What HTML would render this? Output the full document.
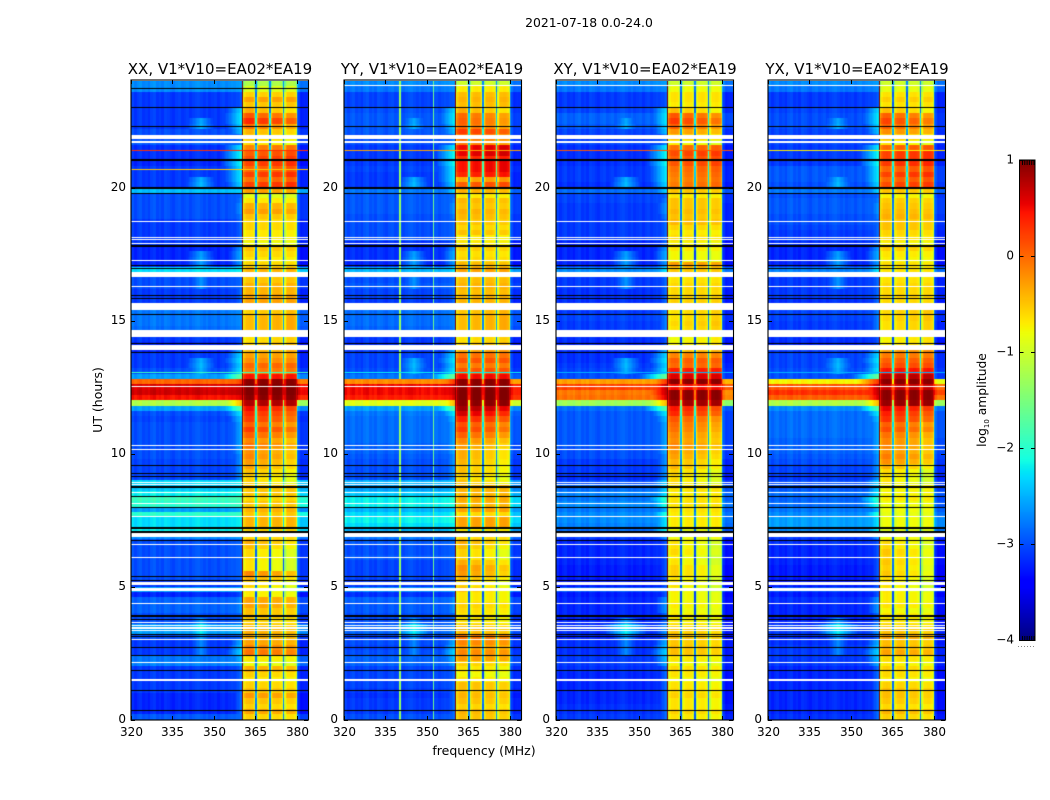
<!DOCTYPE html>
<html>
<head>
<meta charset="utf-8">
<title>2021-07-18 0.0-24.0</title>
<style>
html,body{margin:0;padding:0;background:#fff;}
#figure{position:relative;width:1050px;height:800px;overflow:hidden;background:#fff;}
canvas{position:absolute;display:block;}
svg{position:absolute;left:0;top:0;}
text{font-family:"DejaVu Sans","Liberation Sans",sans-serif;fill:#000;}
</style>
</head>
<body>
<div id="figure">
<canvas id="heat0" width="177" height="639" style="left:131px;top:81px"></canvas>
<canvas id="heat1" width="177" height="639" style="left:344px;top:81px"></canvas>
<canvas id="heat2" width="177" height="639" style="left:556px;top:81px"></canvas>
<canvas id="heat3" width="177" height="639" style="left:768px;top:81px"></canvas>
<canvas id="cbar" width="16" height="480" style="left:1019px;top:160px"></canvas>
<svg id="overlay" width="1050" height="800">
<text x="589" y="27" font-size="12.4" text-anchor="middle">2021-07-18 0.0-24.0</text>
<text x="220" y="74" font-size="15" text-anchor="middle">XX, V1*V10=EA02*EA19</text>
<text x="432" y="74" font-size="15" text-anchor="middle">YY, V1*V10=EA02*EA19</text>
<text x="645" y="74" font-size="15" text-anchor="middle">XY, V1*V10=EA02*EA19</text>
<text x="857" y="74" font-size="15" text-anchor="middle">YX, V1*V10=EA02*EA19</text>
<text x="484" y="755" font-size="12.5" text-anchor="middle">frequency (MHz)</text>
<text transform="translate(102,400) rotate(-90)" font-size="12.5" text-anchor="middle">UT (hours)</text>
<text transform="translate(986,400) rotate(-90)" font-size="12.3" text-anchor="middle">log<tspan font-size="7" dy="3">10</tspan><tspan dy="-3"> amplitude</tspan></text>
</svg>
</div>
<script>
// ---- Chart data (log10 amplitude) ----
// Rows run from 24 h (top) to 0 h (bottom), one value for each 0.2 h.
const rowSpanHours = 0.2;
const xTickLabels = [320, 335, 350, 365, 380];
const yTickLabels = [0, 5, 10, 15, 20];
const colorbarTicks = [1, 0, -1, -2, -3, -4];

const bandXX = [
-1.2,-0.9,-0.55,-0.3,-0.5,-0.5,-0.05,0.2,-0.2,-0.5,
-0.6,-0.7,-0.1,0.1,0.2,0.25,0.05,0.25,0,0.25,
-0.3,-0.9,-0.7,-0.4,-0.3,-0.5,-0.6,-0.6,-0.7,-0.7,
-0.8,-0.5,-0.6,-0.7,-0.6,-0.4,-0.5,-0.5,-0.4,-0.4,
-0.3,-0.3,-0.5,-0.5,-0.4,-0.4,-0.4,-0.5,-0.6,-0.5,
-0.4,-0.3,-0.2,0,-0.1,0.45,0.95,1,1,0.95,
0.8,0.35,0.2,0.1,-0.1,0.1,-0.1,-0.3,-0.2,-0.35,
-0.3,-0.4,-0.45,-0.6,-0.7,-0.7,-0.5,-0.5,-0.6,-0.5,
-0.4,-0.5,-0.4,-0.4,-0.6,-0.6,-0.5,-0.6,-0.75,-0.75,
-0.8,-0.8,-0.3,-0.5,-0.7,-0.8,-0.75,-0.35,-0.35,-0.5,
-0.5,-0.6,-0.5,-0.4,-0.4,-0.35,-0.2,-0.1,-0.7,-0.85,
-0.4,-0.6,-0.7,-0.6,-0.5,-0.3,-0.5,-0.6,-0.35,-0.6];
const bandYY = [
-1,-0.7,-0.45,-0.4,-0.45,-0.5,-0.15,-0.1,-0.15,0.15,
-0.1,-0.2,0.55,0.6,0.35,0.5,0.5,0.4,-0.3,0.1,
-0.4,-0.7,-0.45,-0.5,-0.4,-0.45,-0.5,-0.6,-0.5,-0.7,
-0.7,-0.55,-0.65,-0.6,-0.45,-0.3,-0.5,-0.45,-0.4,-0.45,
-0.4,-0.4,-0.5,-0.45,-0.4,-0.4,-0.4,-0.4,-0.6,-0.5,
-0.3,-0.05,0.1,-0.1,0.1,0.5,0.95,0.95,1,1,
0.95,0.7,0.5,0.25,0,0.1,-0.1,-0.3,-0.4,-0.5,
-0.5,-0.55,-0.6,-0.6,-0.7,-0.6,-0.4,-0.4,-0.35,-0.4,
-0.3,-0.6,-0.3,-0.3,-0.7,-0.6,-0.5,-0.6,-0.7,-0.7,
-0.5,-0.35,-0.4,-0.55,-0.7,-0.6,-0.7,-0.7,-0.6,-0.65,
-0.7,-0.7,-0.55,-0.45,-0.1,-0.2,-0.3,-0.2,-0.3,-0.6,
-0.7,-0.8,-0.7,-0.5,-0.5,-0.45,-0.5,-0.6,-0.45,-0.5];
const bandXY = [
-1,-0.8,-0.65,-0.65,-0.7,-0.6,-0.05,0.1,-0.1,-0.35,
-0.55,-0.8,0,0.2,0.1,0.15,0,-0.05,-0.1,-0.05,
-0.5,-0.7,-0.5,-0.5,-0.45,-0.5,-0.45,-0.6,-0.7,-0.65,
-0.75,-0.7,-0.8,-0.8,-0.3,-0.5,-0.7,-0.65,-0.6,-0.6,
-0.55,-0.55,-0.65,-0.6,-0.6,-0.55,-0.6,-0.65,-0.75,-0.7,
-0.45,-0.15,0.05,0,0.4,0.6,0.95,0.5,0.95,0.95,
0.85,0.3,0.2,-0.05,-0.15,-0.2,-0.3,-0.35,-0.3,-0.4,
-0.45,-0.55,-0.55,-0.7,-0.75,-0.75,-0.65,-0.7,-0.65,-0.65,
-0.65,-0.7,-0.7,-0.7,-0.85,-0.8,-0.8,-0.8,-0.75,-0.85,
-0.8,-0.7,-0.7,-0.8,-0.8,-0.85,-0.8,-0.8,-0.75,-0.8,
-0.75,-0.75,-0.65,-0.55,-0.5,-0.55,-0.5,-0.5,-0.7,-0.8,
-0.65,-0.7,-0.8,-0.7,-0.65,-0.6,-0.7,-0.7,-0.6,-0.7];
const bandYX = [
-1,-0.85,-0.65,-0.55,-0.65,-0.6,-0.1,0.05,-0.1,-0.3,
-0.55,-0.75,0.05,0.25,0.25,0.3,0.05,0.25,0.05,0.2,
-0.5,-0.75,-0.55,-0.5,-0.45,-0.4,-0.5,-0.5,-0.6,-0.65,
-0.75,-0.55,-0.7,-0.75,-0.65,-0.65,-0.7,-0.65,-0.6,-0.6,
-0.55,-0.6,-0.65,-0.55,-0.55,-0.6,-0.6,-0.6,-0.7,-0.65,
-0.25,-0.1,0.05,0.15,0.45,0.75,0.95,0.7,0.95,0.95,
0.9,0.4,0.25,0.15,-0.1,0,-0.2,-0.3,-0.3,-0.35,
-0.25,-0.35,-0.55,-0.75,-0.8,-0.8,-0.75,-0.75,-0.7,-0.8,
-0.8,-0.85,-0.8,-0.8,-0.9,-0.8,-0.75,-0.75,-0.65,-0.7,
-0.65,-0.7,-0.65,-0.75,-0.8,-0.8,-0.75,-0.75,-0.7,-0.8,
-0.7,-0.7,-0.6,-0.5,-0.35,-0.5,-0.45,-0.35,-0.65,-0.75,
-0.6,-0.65,-0.75,-0.6,-0.5,-0.5,-0.55,-0.65,-0.45,-0.6];

const backgroundXX = [
-2.6,-2.6,-3,-3,-3,-3,-3,-3,-3,-2.9,
-2.9,-2.85,-3.05,-3.05,-3.05,-3.1,-3,-3,-3,-3,
-2.35,-2.9,-2.9,-2.9,-2.9,-2.9,-3,-3,-3,-3,
-3,-3.1,-3.1,-3.1,-3.1,-2.2,-2.9,-2.9,-2.9,-3,
-3,-3,-3,-2.7,-2.7,-2.7,-2.75,-2.7,-3,-3.1,
-3.1,-3,-3,-3,-2.9,-2.5,0,0.6,0.65,0.45,
-1.2,-2.5,-2.9,-2.95,-2.9,-2.9,-2.9,-2.9,-2.9,-2.9,
-2.9,-2.95,-2.95,-2.95,-2.95,-2.2,-2.3,-2.1,-1.9,-2,
-2.5,-2,-2.2,-2.2,-2.1,-2.6,-2.9,-2.9,-2.9,-2.9,
-2.9,-2.9,-2.9,-2.9,-3,-2.5,-3.1,-2.8,-2.8,-2.8,
-2.9,-2.9,-2.5,-2.5,-2.9,-3,-3,-3,-2.7,-2.65,
-3,-3,-3,-3,-3,-3.1,-3.1,-3.1,-3.1,-2.85];
const backgroundYY = [
-2.6,-2.7,-2.95,-2.95,-2.95,-2.9,-2.85,-2.85,-2.85,-2.85,
-2.9,-2.9,-3,-3,-3,-3,-2.95,-3,-3,-3,
-2.7,-2.85,-2.85,-2.85,-2.85,-2.9,-2.9,-2.9,-2.9,-2.9,
-3.05,-3.05,-3.05,-3.05,-3.1,-2.4,-2.85,-2.9,-2.85,-2.95,
-2.95,-3,-3,-2.75,-2.75,-2.75,-2.8,-2.75,-3,-3.05,
-3,-2.95,-2.95,-2.95,-2.9,-2.7,-0.2,0.5,0.5,0.4,
-0.9,-2.5,-2.7,-2.75,-2.75,-2.75,-2.75,-2.75,-2.8,-2.8,
-2.85,-2.9,-2.9,-2.9,-2.9,-2.4,-2.5,-2.3,-2.1,-2.1,
-2.4,-2.2,-2.1,-2.2,-2.4,-2.7,-2.85,-2.9,-2.9,-2.85,
-2.95,-2.95,-2.95,-2.95,-3,-2.6,-3.05,-2.8,-2.85,-2.85,
-2.9,-2.9,-2.8,-2.8,-2.95,-2.9,-2.95,-2.9,-2.8,-2.8,
-2.95,-2.95,-2.95,-2.95,-3,-3.05,-3,-3,-3,-2.9];
const backgroundXY = [
-2.6,-2.7,-3,-3,-3,-2.95,-2.8,-2.8,-2.85,-2.95,
-3,-2.95,-3.05,-3.05,-3.05,-3.05,-3,-3,-3,-3.05,
-2.75,-2.95,-2.95,-3,-3,-3,-3,-3,-3,-3,
-3.1,-3.1,-3.1,-3.1,-3.1,-2.6,-3,-3,-3,-3.05,
-3.05,-3.05,-3.1,-3,-2.95,-3,-3,-3,-3.05,-3.1,
-3.05,-3.05,-3.05,-3,-2.95,-2.9,-0.3,0.2,-0.1,-0.05,
-1.3,-2.75,-2.85,-2.85,-2.85,-2.85,-2.85,-2.85,-2.85,-2.9,
-2.9,-3,-3,-3,-3.05,-2.9,-2.75,-2.65,-2.7,-2.6,
-2.7,-2.6,-2.6,-2.65,-2.75,-3,-3.1,-3.1,-3.1,-3.1,
-3.1,-3.15,-3.15,-3.15,-3.15,-2.85,-3.15,-3.1,-3.1,-3.1,
-3.1,-3.1,-3.05,-3.05,-3.1,-3.05,-3.05,-3.05,-3,-3,
-3.05,-3.1,-3.1,-3.1,-3.1,-3.1,-3.1,-3.05,-3.05,-3];
const backgroundYX = [
-2.6,-2.7,-3,-3,-3,-2.95,-2.9,-2.9,-2.9,-2.95,
-3,-2.95,-3,-3,-3,-3,-2.85,-2.85,-2.85,-2.9,
-2.7,-2.9,-2.85,-2.85,-2.85,-2.9,-2.9,-2.95,-3,-3,
-3.05,-3.1,-3.1,-3.1,-3.1,-2.65,-3,-3,-3,-3,
-3,-3.05,-3.1,-2.95,-2.95,-3,-3,-3,-3.05,-3.1,
-3,-2.95,-2.95,-2.95,-2.9,-2.9,-0.75,0.1,0.3,0.05,
-1.2,-2.6,-2.75,-2.75,-2.75,-2.75,-2.75,-2.8,-2.8,-2.8,
-2.85,-2.9,-2.95,-2.95,-3,-2.9,-2.85,-2.75,-2.8,-2.75,
-2.7,-2.6,-2.5,-2.5,-2.6,-3,-3.05,-3.1,-3.1,-3.1,
-3.1,-3.15,-3.15,-3.15,-3.15,-2.9,-3.15,-3.05,-3.1,-3.1,
-3.1,-3.1,-3,-3,-3.05,-3.05,-3,-3,-3,-3,
-3.1,-3.1,-3.1,-3.1,-3.1,-3.1,-3.1,-3.1,-3.1,-3.05];

// Level reached next to the band edge (360 MHz), per row.
const rampLevels = [
-2.6,-2.6,-2.8,-2.8,-2.8,-2.2,-2.1,-2.1,-2.2,-2.3,
-2.6,-2.6,-2.1,-2,-2,-2,-2.1,-2.1,-2.1,-2.2,
-2.2,-2.7,-2.6,-2.5,-2.5,-2.6,-2.7,-2.7,-2.7,-2.7,
-2.7,-2.5,-2.4,-2.4,-2.5,-2.1,-2.7,-2.7,-2.7,-2.7,
-2.7,-2.7,-2.7,-2.6,-2.6,-2.6,-2.6,-2.6,-2.8,-2.8,
-2.4,-2.2,-2.1,-2.2,-2.1,-1.5,0.4,0.85,0.85,0.75,
-0.3,-1.6,-2.1,-2.3,-2.4,-2.4,-2.4,-2.4,-2.4,-2.4,
-2.5,-2.5,-2.5,-2.5,-2.5,-2.2,-2.2,-2.1,-1.8,-1.9,
-2.3,-1.9,-2.1,-2.1,-2,-2.5,-2.8,-2.8,-2.8,-2.8,
-2.8,-2.8,-2.8,-2.8,-2.8,-2.8,-2.8,-2.5,-2.5,-2.5,
-2.7,-2.7,-2.5,-2.5,-2.7,-2.4,-2.3,-2.2,-2.3,-2.4,
-2.7,-2.7,-2.7,-2.7,-2.7,-2.7,-2.7,-2.7,-2.7,-2.7];
// Peak of the broad emission patch near 345 MHz, per row (-4 = none).
const humpLevels = [
-4,-4,-4,-4,-4,-4,-4,-2.55,-2.5,-4,
-4,-4,-4,-4,-4,-4,-4,-4,-2.5,-2.45,
-4,-4,-4,-4,-4,-4,-4,-4,-4,-4,
-4,-4,-2.6,-2.55,-2.6,-4,-2.65,-2.65,-2.65,-4,
-4,-4,-4,-4,-4,-4,-4,-4,-4,-4,
-4,-4,-2.5,-2.45,-2.5,-4,-4,-4,-4,-4,
-4,-4,-4,-4,-4,-4,-4,-4,-4,-4,
-4,-4,-4,-4,-4,-4,-4,-4,-4,-4,
-4,-4,-4,-4,-4,-4,-4,-4,-4,-4,
-4,-4,-4,-4,-4,-4,-4,-4,-4,-4,
-4,-2.6,-2.1,-2.2,-2.6,-2.7,-2.7,-2.7,-4,-4,
-4,-4,-4,-4,-4,-4,-4,-4,-4,-4];
// How much brighter the low-frequency sub-bands are than the high ones, per row.
const bandTilt = [
0,0,0,0,0,0.15,0.15,0.15,0.15,0.1,
0.1,0.1,-0.05,-0.05,-0.05,-0.05,-0.05,-0.05,-0.05,-0.05,
0.03,0.03,0.03,0.03,0.03,0.03,0.03,0.03,0.03,0.03,
0.03,0.03,0.03,0.03,0.03,0,0,0,0,0,
0,0,0,-0.05,-0.05,-0.05,-0.05,-0.05,-0.05,-0.05,
-0.05,0,0,0,0,0,0,0,0,0,
0,0.15,0.15,0.15,0.15,0.15,0.15,0.15,0.15,0.15,
0.15,0.15,0.15,0.15,0.15,0.15,0,0,0,0,
0,0,0,0,0,0,0.15,0.15,0.15,0.15,
0.15,0.15,0.15,0.15,0.15,0.15,0.05,0.05,0.05,0.05,
0.05,0.05,0.05,0.05,0.05,0.05,0.05,0.05,0.05,0.05,
0.05,0.05,0.05,0.05,0.05,0.05,0.05,0.05,0.05,0.05];
const subbandWeights = [1, 0.3, -0.2, -1.1];

// Passband shape, 360.5 to 379.5 MHz in 0.5 MHz steps (offset from row level).
const bandShape = [
-0.45,-0.08,0,0,0.02,0.02,0,-0.04,-0.3,-2.3,
-0.4,-0.08,0,0,0.02,0.02,0,-0.04,-0.3,-2.3,
-0.4,-0.08,0,0,0.02,0.02,0,-0.04,-0.3,-2.2,
-0.4,-0.08,0,0,0.02,0.02,0,-0.04,-0.3];
// Channel offsets 320 to 359 MHz, 1 MHz steps.
const channelOffsets = [
0.05,-0.05,0.02,0.06,-0.04,0,-0.06,0.04,0.08,-0.03,
0.02,-0.05,0.06,0.03,-0.02,-0.06,0.02,0.05,-0.03,0,
0.04,-0.04,0.02,0.06,0.08,0.03,-0.02,0.04,-0.04,0,
0.03,-0.05,0.02,0.05,-0.02,0.03,0.06,0.04,0.08,0.1];
// Channel offsets 380 to 383.5 MHz, 0.5 MHz steps.
const rightOffsets = [0.25, 0, -0.12, -0.15, -0.12, -0.1, -0.12, -0.08];

// Persistent narrow-band lines per polarisation: [MHz, level].
const spikesXX = [];
const spikesYY = [[340, -1.35], [352, -1.6]];
const spikesXY = [];
const spikesYX = [];

// Short bright lines: hour, then level in XX, YY, XY, YX.
const hotLineHours = [21.4, 20.7, 13.05];
const hotLineLevels = [[0.3, -0.3, 0.1, -0.7], [-0.5, -4, -4, -4], [-1.9, -2.2, -2.5, -2.5]];

// Flagged (no data) time ranges, hours [low, high].
const whiteFlags = [[21.84,21.96],[21.69,21.73],[18.69,18.73],[18.09,18.13],[18.01,18.05],[17.89,17.93],
[17.24,17.28],[16.63,16.81],[16.27,16.31],[15.40,15.67],[14.62,14.66],[14.39,14.61],[13.89,14.08],
[12.51,12.55],[10.27,10.31],[10.12,10.16],[8.90,8.94],[8.82,8.86],[8.51,8.55],[8.09,8.13],[7.60,7.64],
[6.87,7.02],[6.57,6.61],[6.08,6.12],[5.07,5.17],[4.84,4.95],[4.35,4.39],[3.62,3.66],[3.52,3.56],
[3.42,3.46],[3.31,3.35],[3.00,3.04],[2.12,2.16],[1.43,1.53]];
const blackFlags = [[22.98,23.02],[22.28,22.32],[20.99,21.07],[19.93,20.01],[19.77,19.81],[17.76,17.84],
[17.04,17.08],[16.92,16.96],[15.91,15.95],[15.79,15.83],[15.21,15.25],[14.11,14.15],[13.78,13.82],
[9.54,9.58],[9.22,9.26],[9.13,9.17],[8.70,8.76],[8.36,8.40],[7.96,8.00],[7.18,7.22],[7.03,7.07],
[6.70,6.74],[5.35,5.39],[5.22,5.26],[3.86,3.94],[3.75,3.79],[3.18,3.22],[3.09,3.13],[2.69,2.73],
[2.38,2.42],[1.81,1.85],[1.08,1.12],[0.33,0.37]];
// Flags seen in only one group of panels near the top of the plot.
const blackFlagsXXOnly = [[23.71,23.75]];
const whiteFlagsOtherPanels = [[23.81,23.87]];

// ---- Layout and scales ----
const panelBand = [bandXX, bandYY, bandXY, bandYX];
const panelBackground = [backgroundXX, backgroundYY, backgroundXY, backgroundYX];
const panelSpikes = [spikesXX, spikesYY, spikesXY, spikesYX];
const panelLeft = [131, 344, 556, 768];
const yLabelGap = [5, 6, 6, 6];
const plotWidth = 177, plotTop = 81, plotBottomPx = 719.5, pxPerHour = 26.6;
const freqMin = 320, freqMax = 384;
// The reference floor is speckled; its mean colour sits slightly below the read row levels.
const floorShift = -0.1;

function xScale(f) { return (f - freqMin) / (freqMax - freqMin) * plotWidth; }
function yScale(h) { return plotBottomPx - plotTop - h * pxPerHour; }
function cbScale(v) { return 160 + (1 - v) / 5 * 480; }

function lerpSeg(t, pts) {
  if (t <= pts[0][0]) return pts[0][1];
  for (let i = 1; i < pts.length; i++) {
    if (t <= pts[i][0]) {
      const a = pts[i - 1], b = pts[i];
      return a[1] + (b[1] - a[1]) * (t - a[0]) / (b[0] - a[0]);
    }
  }
  return pts[pts.length - 1][1];
}
const jetR = [[0.35, 0], [0.66, 1], [0.89, 1], [1, 0.5]];
const jetG = [[0.125, 0], [0.375, 1], [0.64, 1], [0.91, 0], [1, 0]];
const jetB = [[0, 0.5], [0.11, 1], [0.34, 1], [0.65, 0], [1, 0]];
function colorOf(v) {
  const t = Math.min(1, Math.max(0, (v + 4) / 5));
  const c = s => Math.round(255 * lerpSeg(t, s));
  return 'rgb(' + c(jetR) + ',' + c(jetG) + ',' + c(jetB) + ')';
}

function cellValue(p, r, f) {
  const raw = panelBackground[p][r];
  const bg = raw < -2 ? raw + floorShift : raw;
  if (f >= 380) {
    return bg + rightOffsets[Math.min(rightOffsets.length - 1, Math.round((f - 380) / 0.5))];
  }
  if (f >= 360.5) {
    const idx = Math.round((f - 360.5) / 0.5);
    const sub = Math.min(3, Math.floor((f - 360.5) / 5));
    const v = panelBand[p][r] + subbandWeights[sub] * bandTilt[r] + bandShape[idx];
    return Math.max(v, bg);
  }
  let v = bg + channelOffsets[Math.floor(f - 320)];
  if (f >= 348) v = Math.max(v, rampLevels[r] - (360.5 - f) * 0.14);
  v = Math.max(v, humpLevels[r] - Math.abs(f - 345) * 0.12);
  for (const s of panelSpikes[p]) {
    if (Math.abs(f - s[0]) < 0.25) v = Math.max(v, s[1]);
  }
  return v;
}

function fillFlag(ctx, range, color) {
  const y0 = Math.round(yScale(range[1]));
  const y1 = Math.round(yScale(range[0]));
  ctx.fillStyle = color;
  ctx.fillRect(0, y0, plotWidth, Math.max(1, y1 - y0));
}

function drawPanel(p) {
  const ctx = document.getElementById('heat' + p).getContext('2d');
  const rows = panelBand[p].length;
  for (let r = 0; r < rows; r++) {
    const hTop = 24 - r * rowSpanHours;
    const y0 = Math.round(yScale(hTop));
    const y1 = Math.round(yScale(hTop - rowSpanHours));
    for (let c = 0; c < (freqMax - freqMin) * 2; c++) {
      const f = freqMin + c * 0.5;
      const x0 = Math.round(xScale(f));
      const x1 = Math.round(xScale(f + 0.5));
      ctx.fillStyle = colorOf(cellValue(p, r, f));
      ctx.fillRect(x0, y0, x1 - x0, y1 - y0);
    }
  }
  hotLineHours.forEach(function (h, i) {
    const level = hotLineLevels[i][p];
    if (level > -4) {
      ctx.fillStyle = colorOf(level);
      ctx.fillRect(0, Math.round(yScale(h)), plotWidth, 1);
    }
  });
  whiteFlags.forEach(function (fl) { fillFlag(ctx, fl, '#fff'); });
  blackFlags.forEach(function (fl) { fillFlag(ctx, fl, '#000'); });
  if (p === 0) {
    blackFlagsXXOnly.forEach(function (fl) { fillFlag(ctx, fl, '#000'); });
  } else {
    whiteFlagsOtherPanels.forEach(function (fl) { fillFlag(ctx, fl, '#fff'); });
  }
}
[0, 1, 2, 3].forEach(drawPanel);

// ---- Colorbar ----
(function () {
  const ctx = document.getElementById('cbar').getContext('2d');
  for (let y = 0; y < 480; y++) {
    ctx.fillStyle = colorOf(1 - (y + 0.5) / 480 * 5);
    ctx.fillRect(0, y, 16, 1);
  }
})();

// ---- Axes ----
const svgNS = 'http://www.w3.org/2000/svg';
const overlay = document.getElementById('overlay');
function addLine(x1, y1, x2, y2, color, name) {
  const el = document.createElementNS(svgNS, 'line');
  el.setAttribute('x1', x1);
  el.setAttribute('y1', y1);
  el.setAttribute('x2', x2);
  el.setAttribute('y2', y2);
  el.setAttribute('stroke', color);
  el.setAttribute('stroke-width', 1);
  
  
  overlay.appendChild(el);
}
function addText(x, y, str, anchor, name) {
  const el = document.createElementNS(svgNS, 'text');
  el.setAttribute('x', x);
  el.setAttribute('y', y);
  el.setAttribute('font-size', 12);
  el.setAttribute('text-anchor', anchor);
  
  
  el.textContent = str;
  overlay.appendChild(el);
}
const panelKeys = ['xx', 'yy', 'xy', 'yx'];
panelLeft.forEach(function (left, p) {
  const key = panelKeys[p];
  const right = left + plotWidth;
  const top = 80, bottom = 720;
  const frame = document.createElementNS(svgNS, 'rect');
  frame.setAttribute('x', left);
  frame.setAttribute('y', top);
  frame.setAttribute('width', plotWidth + 0.5);
  frame.setAttribute('height', bottom - top);
  frame.setAttribute('fill', 'none');
  frame.setAttribute('stroke', '#000');
  frame.setAttribute('stroke-width', 1.1);
  
  
  overlay.appendChild(frame);
  xTickLabels.forEach(function (f) {
    const x = Math.round(left + xScale(f)) + 0.5;
    addLine(x, bottom, x, bottom - 4, '#000', 'x-tick-' + f);
    addLine(x, top, x, top + 4, '#000', 'x-tick-top-' + f);
    addText(x, bottom + 16, String(f), 'middle', 'x-tick-label-' + f);
  });
  yTickLabels.forEach(function (h) {
    const y = Math.round(plotTop + yScale(h)) + 0.5;
    addLine(left, y, left + 4, y, '#000', 'y-tick-' + h);
    addLine(right, y, right - 4, y, '#000', 'y-tick-right-' + h);
    addText(left - yLabelGap[p], y + 2.5, String(h), 'end', 'y-tick-label-' + h);
  });
});

// Colorbar frame, ticks and labels.
(function () {
  const frame = document.createElementNS(svgNS, 'rect');
  frame.setAttribute('x', 1019.5);
  frame.setAttribute('y', 160);
  frame.setAttribute('width', 15.5);
  frame.setAttribute('height', 480.5);
  frame.setAttribute('fill', 'none');
  frame.setAttribute('stroke', '#000');
  frame.setAttribute('stroke-width', 1);
  
  
  overlay.appendChild(frame);
  colorbarTicks.forEach(function (v) {
    const y = Math.round(cbScale(v)) + 0.5;
    addLine(1019.5, y, 1023.5, y, '#000', 'colorbar-tick-' + v);
    addLine(1031, y, 1035, y, '#000', 'colorbar-tick-right-' + v);
    addText(1014, y + 3, String(v).replace('-', '\u2212'), 'end', 'colorbar-tick-label-' + v);
  });
  for (let k = 0; k < 6; k++) {
    const x = 1022.5 + k * 2.3;
    addLine(x, 160, x, 165, '#000', 'colorbar-end-tick-top');
    addLine(x, 636, x, 640, '#000', 'colorbar-end-tick-bottom');
  }
  for (let k = 0; k < 6; k++) {
    const dot = document.createElementNS(svgNS, 'rect');
    dot.setAttribute('x', 1018 + k * 3);
    dot.setAttribute('y', 646);
    dot.setAttribute('width', 1);
    dot.setAttribute('height', 1);
    dot.setAttribute('fill', '#888');
    
    
    overlay.appendChild(dot);
  }
})();
</script>
</body>
</html>
